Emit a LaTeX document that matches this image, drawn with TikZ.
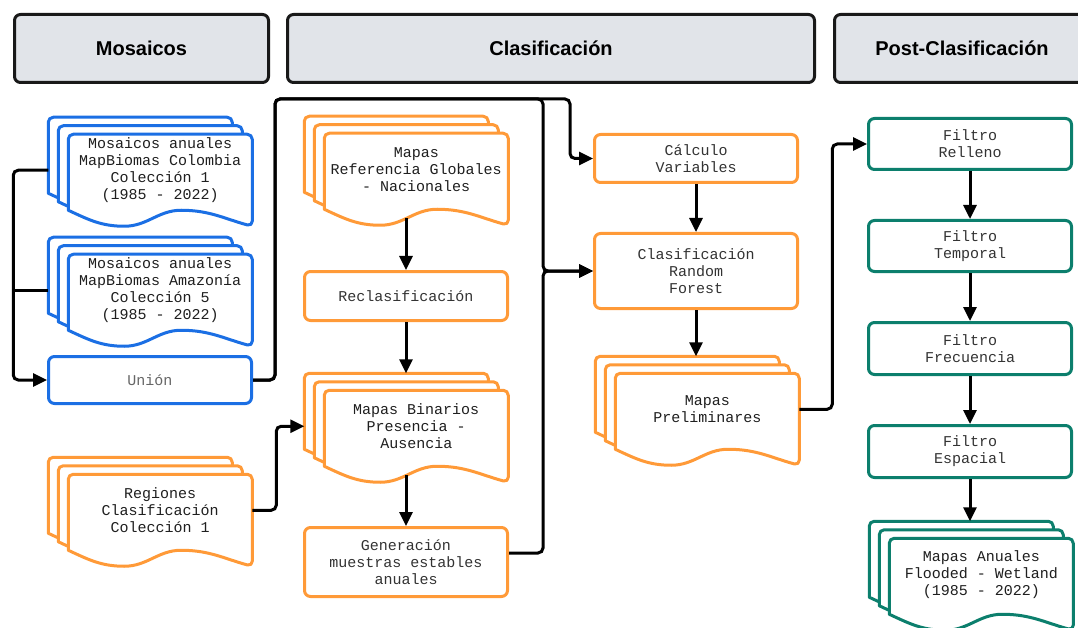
\documentclass[tikz,border=0pt]{standalone}
\usepackage{fontspec}
\setmainfont{Liberation Sans}
\setsansfont{Liberation Sans}
\setmonofont{Liberation Mono}
\usetikzlibrary{positioning}
\usetikzlibrary{arrows.meta}
\usetikzlibrary{backgrounds}

\definecolor{mbblue}{HTML}{1B6FE4}
\definecolor{mborange}{HTML}{FF9A38}
\definecolor{mbgreen}{HTML}{0C7F6D}
\definecolor{hdrgray}{HTML}{E1E4E9}
\definecolor{txt}{HTML}{333333}

\tikzstyle{header} = [rectangle, draw=black!90, fill=hdrgray, line width=3pt, rounded corners=6pt, minimum height=68pt, font=\sffamily\bfseries\fontsize{20}{24}\selectfont]
\tikzstyle{block} = [rectangle, draw, fill=white, line width=3pt, rounded corners=6pt, minimum width=203pt, align=center, text=txt, font=\ttfamily\fontsize{15}{17}\selectfont]
\tikzstyle{doc} = [rectangle, minimum width=184pt, minimum height=72pt, inner sep=0pt, outer sep=0pt, align=center, text=black!88, font=\ttfamily\fontsize{15}{17}\selectfont]
\tikzstyle{sheet} = [line width=3pt, fill=white, line join=round]
\tikzstyle{line} = [draw, line width=3pt, rounded corners=5pt, -{Triangle[length=14pt,width=13pt]}]
\tikzstyle{link} = [draw, line width=3pt, rounded corners=5pt]

% stack of three sheets behind a doc node
\newcommand{\docstack}[2]{%
  \begin{pgfonlayer}{background}
    \foreach \dx/\dy in {20/17, 10/8.5, 0/0} {
      \filldraw[sheet, draw=#2] ([shift={(-\dx,-\dy)}]#1.south west) ++(0,4)
        [rounded corners=5pt] |- ([shift={(-\dx,-\dy)}]#1.north east) -- ++(0,92)
        [sharp corners] to[out=165,in=0] ++(-71,-16) to[out=180,in=0] ++(-57,16)
        to[out=180,in=-25] ++(-56,-16) -- cycle;
    }
  \end{pgfonlayer}
  \coordinate (#1-top) at ([yshift=17pt]#1.north);
  \coordinate (#1-bot) at ([yshift=-13pt]#1.south);
}

\begin{document}
\begin{tikzpicture}[x=1pt, y=-1pt]
    \useasboundingbox (0,0) rectangle (1078,628);

    % headers
    \node[header, minimum width=254pt] (hmos) at (141.5,48.5) {Mosaicos};
    \node[header, minimum width=527pt] (hcla) at (551,48.5) {Clasificación};
    \node[header, minimum width=255pt] (hpost) at (962,48.5) {Post-Clasificación};

    % Mosaicos
    \node[doc] (moscol) at (160.25,170.25) {Mosaicos anuales\\MapBiomas Colombia\\Colección 1\\(1985 - 2022)};
    \node[doc] (mosama) at (160.25,290.25) {Mosaicos anuales\\MapBiomas Amazonía\\Colección 5\\(1985 - 2022)};
    \node[block, draw=mbblue, minimum height=47pt, text=black!60] (union) at (150,380) {Unión};
    \node[doc] (regdoc) at (160.25,510.25) {Regiones\\Clasificación\\Colección 1};
    \docstack{moscol}{mbblue}
    \docstack{mosama}{mbblue}
    \docstack{regdoc}{mborange}

    % Clasificacion
    \node[doc] (refdoc) at (416.25,169.25) {Mapas\\Referencia Globales\\- Nacionales};
    \node[block, draw=mborange, minimum height=49pt] (reclas) at (406,296) {Reclasificación};
    \node[doc] (bindoc) at (416.25,426.25) {Mapas Binarios\\Presencia -\\Ausencia};
    \node[block, draw=mborange, minimum height=69pt] (gener) at (406,562) {Generación\\muestras estables\\anuales};
    \docstack{refdoc}{mborange}
    \docstack{bindoc}{mborange}

    \node[block, draw=mborange, minimum height=48pt] (calculo) at (696,158.5) {Cálculo\\Variables};
    \node[block, draw=mborange, minimum height=75pt] (rf) at (696,271) {Clasificación\\Random\\Forest};
    \node[doc] (predoc) at (707.25,409.25) {Mapas\\Preliminares};
    \docstack{predoc}{mborange}

    % Post-Clasificacion
    \node[block, draw=mbgreen, minimum height=51pt] (relleno) at (970,144) {Filtro\\Relleno};
    \node[block, draw=mbgreen, minimum height=51pt, below=48pt of relleno] (temporal) {Filtro\\Temporal};
    \node[block, draw=mbgreen, minimum height=52pt, below=48pt of temporal] (frecuencia) {Filtro\\Frecuencia};
    \node[block, draw=mbgreen, minimum height=52pt, below=48pt of frecuencia] (espacial) {Filtro\\Espacial};
    \node[doc] (anudoc) at (981.25,574.25) {Mapas Anuales\\Flooded - Wetland\\(1985 - 2022)};
    \docstack{anudoc}{mbgreen}

    % connectors
    \path[line] ([xshift=-20pt]moscol.west) -- ++(-35,0) |- (union.west);
    \path[link] ([xshift=-20pt]mosama.west) -- ++(-35,0);
    \path[line] (union.east) -- ++(22,0) -- ++(0,-281) -| ([xshift=-23pt]calculo.west) -- (calculo.west);
    \path[line] (union.east) -- ++(22,0) -- ++(0,-281) -| ([xshift=-50pt]rf.west) -- (rf.west);
    \path[line] ([yshift=9pt]gener.east) -| ([xshift=-50pt]rf.west) -- (rf.west);
    \path[line] (reclas.north |- refdoc-bot) -- (reclas.north);
    \path[line] (reclas.south) -- (reclas.south |- bindoc-top);
    \path[line] (gener.north |- bindoc-bot) -- (gener.north);
    \path[line] (regdoc.east) -- ++(24,0) |- ([xshift=-20pt]bindoc.west);
    \path[line] (calculo) -- (rf);
    \path[line] (rf.south) -- (rf.south |- predoc-top);
    \path[line] (predoc.east) -- ++(33,0) |- (relleno.west);
    \path[line] (relleno) -- (temporal);
    \path[line] (temporal) -- (frecuencia);
    \path[line] (frecuencia) -- (espacial);
    \path[line] (espacial.south) -- (espacial.south |- anudoc-top);
\end{tikzpicture}
\end{document}
